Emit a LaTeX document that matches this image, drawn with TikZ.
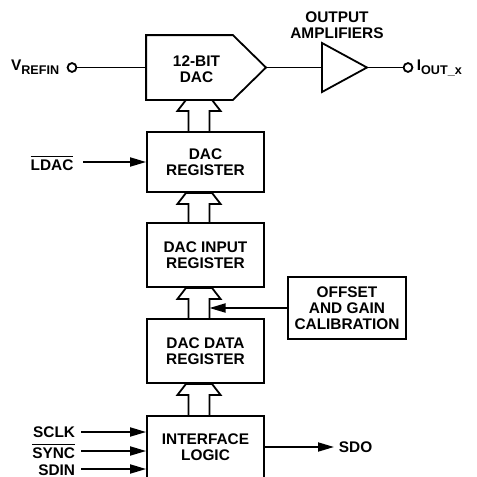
\documentclass[tikz,border=0pt]{standalone}
\usepackage{fontspec}
\setmainfont{Liberation Sans}
\usetikzlibrary{arrows.meta, positioning, calc}
\newcommand{\subtxt}[1]{\raisebox{-0.45ex}{\fontsize{6.3}{6.3}\selectfont #1}}
% bus arrow from the lower block #2 up into the upper block #1
\newcommand{\busarrow}[2]{%
  \draw[bus] ($(busx |- #2.north)+(-10.5,0)$) -- ($(busx |- #1.south)+(-10.5,11)$)
    -- ($(busx |- #1.south)+(-21.5,11)$) -- ($(busx |- #1.south)+(-13,0)$)
    -- ($(busx |- #1.south)+(13,0)$) -- ($(busx |- #1.south)+(21.5,11)$)
    -- ($(busx |- #1.south)+(10.5,11)$) -- ($(busx |- #2.north)+(10.5,0)$);}

\begin{document}
\begin{tikzpicture}[x=0.5pt, y=-0.5pt, line width=0.9pt,
    txt/.style={font=\fontsize{7.7}{8}\selectfont\bfseries, align=center, inner sep=2pt},
    block/.style={txt, draw, minimum width=58.5pt, minimum height=32pt},
    pin/.style={draw, circle, fill=white, inner sep=0pt, minimum size=4.4pt},
    sig/.style={-{Triangle[length=8pt, width=4.5pt]}},
    bus/.style={line join=miter}]
  \clip (0,0) rectangle (477,477);

  % DAC and output stage
  \node[minimum width=42.5pt, minimum height=31.5pt, inner sep=0pt] (dac) at (189.5,67.5) {};
  \node[txt] (daclbl) at (196.5,69.5) {12-BIT\\DAC};
  \coordinate (dactip) at (266,67.5);
  \draw (dac.south west) -- (dac.north west) -- (dac.north east) -- (dactip) -- (dac.south east) -- cycle;
  \coordinate (ampin) at (322,67.5);
  \coordinate (ampout) at (367,67.5);
  \draw (322,43) -- (ampout) -- (322,92) -- cycle;
  \node[txt] (amplbl) at (337,25) {OUTPUT\\AMPLIFIERS};
  \node[pin] (vrefpin) at (72,67.5) {};
  \node[txt, anchor=east] (vref) at (64,67) {V\subtxt{REFIN}};
  \node[pin] (ioutpin) at (408,67.5) {};
  \node[txt, anchor=west] (iout) at (412,68) {I\subtxt{OUT\_x}};
  \draw (vrefpin) -- (dac.west);
  \draw (dactip) -- (ampin);
  \draw (ampout) -- (ioutpin);

  % register chain
  \coordinate (busx) at (199,0);
  \node[block, minimum height=30pt] (dacreg) at (205.5,162) {DAC\\REGISTER};
  \node[block] (inreg) at (205.5,255) {DAC INPUT\\REGISTER};
  \node[block] (datareg) at (205.5,351) {DAC DATA\\REGISTER};
  \node[block, minimum height=31pt] (iface) at (205.5,447) {INTERFACE\\LOGIC};
  \node[block, minimum width=59pt, minimum height=31pt] (cal) at (347,308) {OFFSET\\AND GAIN\\CALIBRATION};
  \busarrow{dac}{dacreg}
  \busarrow{dacreg}{inreg}
  \busarrow{inreg}{datareg}
  \busarrow{datareg}{iface}
  \coordinate (caltip) at (209.5,308);
  \draw[sig] (cal.west) -- (caltip);

  % control and serial pins
  \node[txt] (ldac) at (52,163) {$\overline{\mbox{LDAC}}$};
  \draw[sig] (83,162) -- (83,162 -| dacreg.west);
  \node[txt, anchor=east] (sclk) at (80,432) {SCLK};
  \node[txt, anchor=east] (sync) at (80,451) {$\overline{\mbox{SYNC}}$};
  \node[txt, anchor=east] (sdin) at (80,470) {SDIN};
  \foreach \pinname/\yy in {sclk/432, sync/451, sdin/469}
    \draw[sig] (81,\yy) -- (81,\yy -| iface.west);
  \node[txt, anchor=west] (sdo) at (334,447) {SDO};
  \draw[sig] (iface.east) -- (sdo.west);
\end{tikzpicture}
\end{document}
